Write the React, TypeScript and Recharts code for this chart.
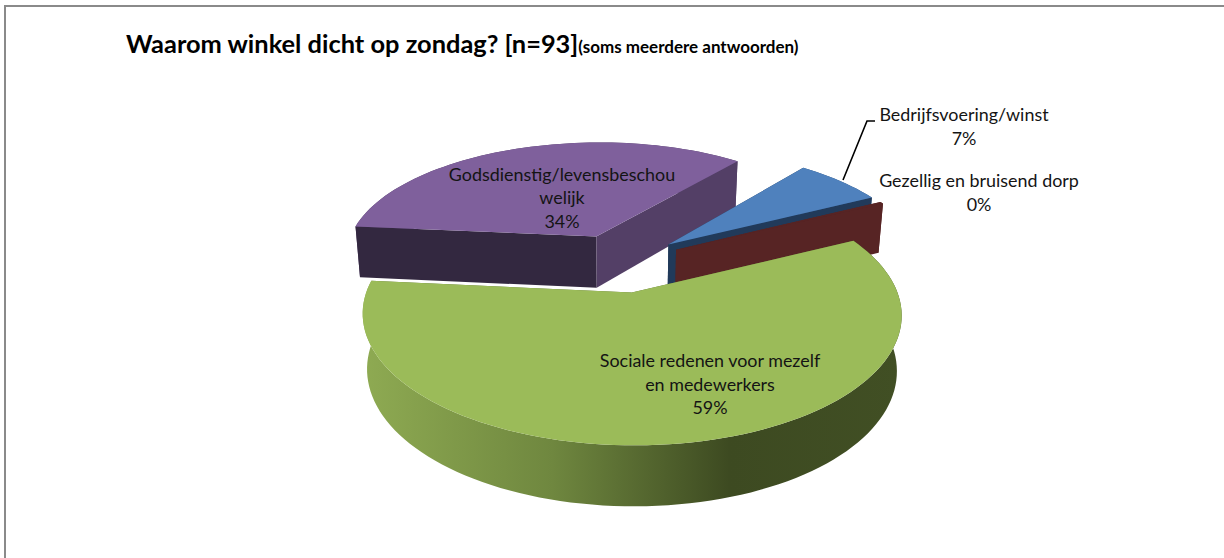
import React from 'react';
import { PieChart, Pie, Cell } from 'recharts';

const categories = ['Godsdienstig/levensbeschouwelijk', 'Bedrijfsvoering/winst', 'Gezellig en bruisend dorp', 'Sociale redenen voor mezelf en medewerkers'];
const values = [34.4, 6.6, 0.3, 58.7];
const labelLines = [
  ['Godsdienstig/levensbeschou', 'welijk'],
  ['Bedrijfsvoering/winst'],
  ['Gezellig en bruisend dorp'],
  ['Sociale redenen voor mezelf', 'en medewerkers'],
];
const topColors = ['#7f609c', '#4f81bd', '#572424', '#9bbb59'];
const startWallColors = ['#332840', '#213a5a', '#572424', '#5d7035'];
const endWallColors = ['#533f66', '#213a5a', '#572424', '#5d7035'];
const rimFills = ['#533f66', '#2e4f78', '#572424', 'url(#greenRim)'];
const labelAnchors: [number, number][] = [[562, 180.5], [964, 121], [979, 187], [710, 367]];
const leaderPoints = '843,180 867,121 875,121';

const W = 1224;
const H = 558;
const CX = 620;
const CY = 262.5;
const F = 255;
const G_RATIO = 0.459;
const K = 0.1625;
const EXPLODE = 0.25;
const RAD = Math.PI / 180;

function project(u: number, v: number, cx: number, cy: number, r: number) {
  const w = 1 + K * v;
  return { x: cx + (r * u) / w, y: cy - (r * G_RATIO * v) / w, w };
}
function lower(p: { x: number; y: number; w: number }, cx: number) {
  const h = 51.5 - 40 * (p.w - 1.034);
  return { x: cx + (p.x - cx) * 0.983, y: p.y + h };
}
const toPath = (pts: { x: number; y: number }[]) =>
  'M' + pts.map((p) => `${p.x.toFixed(2)},${p.y.toFixed(2)}`).join('L') + 'Z';

function Wedge(props: any) {
  const { cx, cy, outerRadius, startAngle, endAngle, midAngle, index } = props;
  const mid = midAngle ?? (startAngle + endAngle) / 2;
  const ou = EXPLODE * Math.cos(mid * RAD);
  const ov = EXPLODE * Math.sin(mid * RAD);
  const apex = project(ou, ov, cx, cy, outerRadius);
  const steps = Math.max(2, Math.ceil(Math.abs(endAngle - startAngle) / 2));
  const arc: ReturnType<typeof project>[] = [];
  for (let i = 0; i <= steps; i++) {
    const a = (startAngle + ((endAngle - startAngle) * i) / steps) * RAD;
    arc.push(project(ou + Math.cos(a), ov + Math.sin(a), cx, cy, outerRadius));
  }
  const low = arc.map((p) => lower(p, cx));
  const first = arc[0];
  const last = arc[arc.length - 1];
  return (
    <g>
      <path d={toPath([...arc, ...low.slice().reverse()])} fill={rimFills[index]} />
      <path d={toPath([apex, first, lower(first, cx), lower(apex, cx)])} fill={startWallColors[index]} />
      <path d={toPath([apex, last, lower(last, cx), lower(apex, cx)])} fill={endWallColors[index]} />
      <path d={toPath([apex, ...arc])} fill={topColors[index]} />
    </g>
  );
}

function SliceLabel(props: any) {
  const { index, percent } = props;
  const [x, y] = labelAnchors[index];
  const lines = [...labelLines[index], `${Math.round(percent * 100)}%`];
  return (
    <g>
      {index === 1 && <polyline points={leaderPoints} fill="none" stroke="#000" strokeWidth={1.6} />}
      <text x={x} y={y} textAnchor="middle" fontFamily="Lato" fontSize={17.9} fill="#141414">
        {lines.map((l, i) => (
          <tspan key={i} x={x} dy={i === 0 ? 0 : 23.6}>{l}</tspan>
        ))}
      </text>
    </g>
  );
}

export default function App() {
  const data = categories.map((name, i) => ({ name, value: values[i] }));
  return (
    <div style={{ position: 'absolute', left: 0, top: 0, width: W, height: H, background: '#fff', overflow: 'hidden' }}>
      <div style={{ position: 'absolute', left: 4, top: 5, width: 1300, height: 600, border: '2px solid #8a8a8a', boxSizing: 'border-box' }} />
      <div style={{ position: 'absolute', left: 126, top: 26, height: 34, lineHeight: '34px', fontFamily: 'Lato', fontWeight: 700, fontSize: 25.4, color: '#000', whiteSpace: 'nowrap' }}>
        Waarom winkel dicht op zondag? [n=93]<span style={{ fontSize: 17 }}>(soms meerdere antwoorden)</span>
      </div>
      <div style={{ position: 'absolute', left: 0, top: 0 }}>
        <PieChart width={W} height={H} margin={{ top: 0, right: 0, bottom: 0, left: 0 }}>
          <defs>
            <linearGradient id="greenRim" gradientUnits="userSpaceOnUse" x1="365" x2="901" y1="0" y2="0">
              <stop offset="0" stopColor="#8eaa52" />
              <stop offset="0.35" stopColor="#6f873f" />
              <stop offset="0.68" stopColor="#3d4a21" />
              <stop offset="1" stopColor="#414f24" />
            </linearGradient>
          </defs>
          <Pie
            data={data}
            dataKey="value"
            nameKey="name"
            cx={CX}
            cy={CY}
            innerRadius={0}
            outerRadius={F}
            startAngle={174.6}
            endAngle={-185.4}
            stroke="none"
            paddingAngle={0}
            shape={Wedge}
            label={SliceLabel}
            labelLine={false}
            isAnimationActive={false}
          >
            {data.map((d, i) => (
              <Cell key={d.name} fill={topColors[i]} />
            ))}
          </Pie>
        </PieChart>
      </div>
    </div>
  );
}
